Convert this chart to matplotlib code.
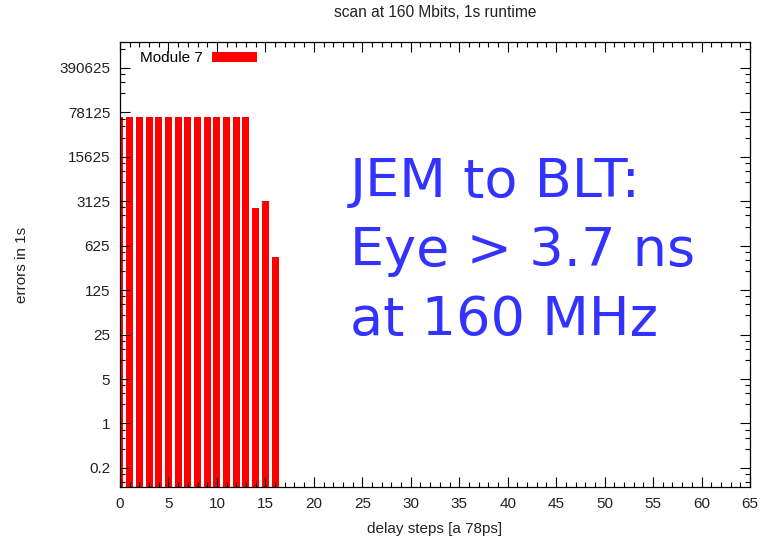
import numpy as np
import matplotlib.pyplot as plt
from matplotlib.ticker import LogLocator, FixedLocator, MultipleLocator, NullFormatter

plt.rcParams['font.family'] = ['Liberation Sans', 'DejaVu Sans']
plt.rcParams['font.size'] = 11
plt.rcParams['xtick.direction'] = 'in'
plt.rcParams['ytick.direction'] = 'in'

# data
steps = list(range(17))
errors = [67000] * 14 + [2450, 3200, 410]
ytick_vals = [0.2, 1, 5, 25, 125, 625, 3125, 15625, 78125, 390625]
ytick_labels = ['0.2', '1', '5', '25', '125', '625', '3125', '15625', '78125', '390625']

fig = plt.figure(figsize=(7.73, 5.43), dpi=100)
ax = fig.add_axes([0.1552, 0.1031, 0.8151, 0.8196])

ax.bar(steps, errors, width=0.72, bottom=0.01, color='#ff0000', linewidth=0,
       label='Module 7')

ax.set_yscale('log', base=5)
ax.set_ylim(0.1, 1e6)
ax.set_xlim(0, 65)

ax.yaxis.set_major_locator(FixedLocator(ytick_vals))
ax.set_yticklabels(ytick_labels)
ax.yaxis.set_minor_locator(LogLocator(base=5, subs=[2, 3, 4], numticks=30))
ax.yaxis.set_minor_formatter(NullFormatter())
ax.xaxis.set_major_locator(MultipleLocator(5))
ax.xaxis.set_minor_locator(MultipleLocator(1))

ax.tick_params(which='both', top=True, right=True, colors='black', labelcolor='#222222')
ax.tick_params(which='major', length=7, width=0.8, pad=7)
ax.tick_params(which='minor', length=3.5, width=0.8)
for s in ax.spines.values():
    s.set_linewidth(0.9)

ax.set_xlabel('delay steps [a 78ps]', color='#222222', labelpad=8)
ax.set_ylabel('errors in 1s', color='#222222', labelpad=22)
ax.set_title('scan at 160 Mbits, 1s runtime', color='#222222', fontsize=11.2, pad=18)

ax.legend(loc='upper left', frameon=False, markerfirst=False, handlelength=2.9,
          handleheight=0.6, handletextpad=0.6, borderaxespad=0.2,
          bbox_to_anchor=(0.018, 1.0))

ax.text(0.365, 0.53, 'JEM to BLT:\nEye > 3.7 ns\nat 160 MHz', transform=ax.transAxes,
        fontsize=39, color='#3333ff', family='DejaVu Sans', linespacing=1.42,
        va='center', ha='left')

plt.savefig('out.png', dpi=100)
